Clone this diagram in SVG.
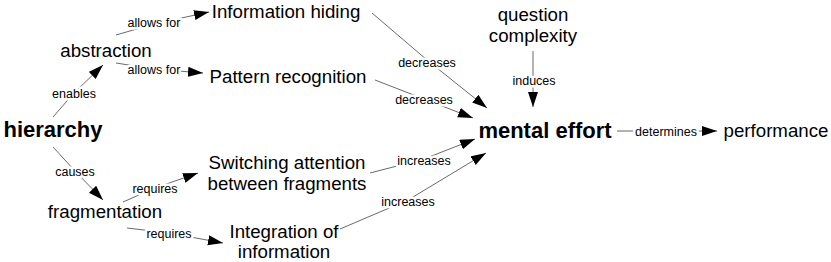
<svg xmlns="http://www.w3.org/2000/svg" width="831" height="262" viewBox="0 0 831 262">
<defs>
<marker id="ah" markerUnits="userSpaceOnUse" markerWidth="16" markerHeight="11" refX="15" refY="5" orient="auto">
<path d="M0,0 L15,5 L0,10 z" fill="#000"/>
</marker>
<style>
.n{font-family:"Liberation Sans",Arial,sans-serif;font-size:18.7px;fill:#000;text-anchor:middle}
.b{font-family:"Liberation Sans",Arial,sans-serif;font-size:22px;font-weight:bold;fill:#000;text-anchor:middle}
.e{fill:none;stroke:#444;stroke-width:0.8;marker-end:url(#ah)}
.g{fill:none;stroke:#999;stroke-width:1.6;marker-end:url(#ah)}
.l{font-family:"Liberation Sans",Arial,sans-serif;font-size:12.5px;fill:#000;text-anchor:middle;stroke:#fff;stroke-width:5;paint-order:stroke;stroke-linejoin:round}
</style>
</defs>
<rect width="831" height="262" fill="#fff"/>
<g id="connectors">
<polyline class="e" points="116,35 154,24 209,12"/>
<polyline class="e" points="116,63 154,69 203,73"/>
<polyline class="e" points="53,117 74,93 103,65"/>
<polyline class="e" points="53,147 75,171 103,200"/>
<polyline class="e" points="123,202 155,188 198,173"/>
<polyline class="e" points="127,228 169,233 223,243"/>
<polyline class="e" points="372,13 427,60 487,108"/>
<polyline class="e" points="375,80 424,99 473,118"/>
<polyline class="e" points="533,51 533,80 533,107"/>
<polyline class="e" points="370,173 424,159 475,139"/>
<polyline class="e" points="340,229 408,200 486,153"/>
<polyline class="g" points="617,131 666,131 717,131"/>
<text class="l" x="154" y="26.5">allows for</text>
<text class="l" x="154" y="74">allows for</text>
<text class="l" x="74" y="97.5">enables</text>
<text class="l" x="75" y="175.5">causes</text>
<text class="l" x="155" y="192.5">requires</text>
<text class="l" x="169" y="237.5">requires</text>
<text class="l" x="427" y="66.5">decreases</text>
<text class="l" x="424" y="103.5">decreases</text>
<text class="l" x="534" y="84.5">induces</text>
<text class="l" x="424" y="164.5">increases</text>
<text class="l" x="408" y="205.5">increases</text>
<text class="l" x="666" y="135.5">determines</text>
</g>
<g id="hierarchy"><text class="b" x="53" y="137">hierarchy</text></g>
<g id="abstraction"><text class="n" x="106" y="56.5">abstraction</text></g>
<g id="fragmentation"><text class="n" x="105" y="218">fragmentation</text></g>
<g id="information-hiding"><text class="n" x="286" y="18">Information hiding</text></g>
<g id="pattern-recognition"><text class="n" x="288" y="83">Pattern recognition</text></g>
<g id="switching-attention"><text class="n" x="287" y="169">Switching attention</text><text class="n" x="287" y="190">between fragments</text></g>
<g id="integration"><text class="n" x="284" y="238">Integration of</text><text class="n" x="284" y="258">information</text></g>
<g id="question-complexity"><text class="n" x="533" y="21">question</text><text class="n" x="533" y="42">complexity</text></g>
<g id="mental-effort"><text class="b" x="545" y="138">mental effort</text></g>
<g id="performance"><text class="n" x="776" y="137">performance</text></g>
</svg>
